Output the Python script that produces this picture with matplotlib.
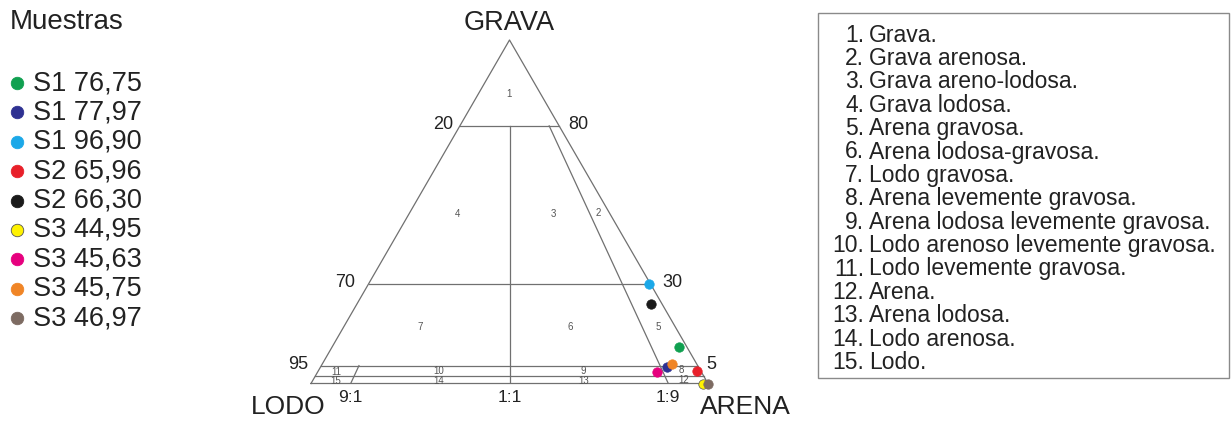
import numpy as np
import matplotlib.pyplot as plt
from matplotlib.patches import Rectangle

plt.rcParams['font.family'] = ['Liberation Sans', 'DejaVu Sans']

# muestras: % de grava y proporcion arena/(arena+lodo)
sample_names = ["S1 76,75", "S1 77,97", "S1 96,90", "S2 65,96", "S2 66,30",
                "S3 44,95", "S3 45,63", "S3 45,75", "S3 46,97"]
sample_colors = ["#10a050", "#2e3192", "#1ba8e8", "#e8202a", "#1a1a1a",
                 "#fff200", "#e6007e", "#f08526", "#7d6b62"]
gravel_pct = [10.7, 4.5, 30.0, 2.4, 23.8, 0.0, 1.9, 5.5, 0.0]
sand_ratio = [0.977, 0.917, 0.994, 0.989, 0.962, 0.987, 0.884, 0.935, 0.999]

# escala vertical del triangulo (grava %) -> altura relativa
gravel_levels = [0, 0.01, 5, 30, 80, 100]
level_heights = [0, 0.022, 0.052, 0.29, 0.75, 1.0]

classes = ["Grava.", "Grava arenosa.", "Grava areno-lodosa.", "Grava lodosa.",
           "Arena gravosa.", "Arena lodosa-gravosa.", "Lodo gravosa.",
           "Arena levemente gravosa.", "Arena lodosa levemente gravosa.",
           "Lodo arenoso levemente gravosa.", "Lodo levemente gravosa.",
           "Arena.", "Arena lodosa.", "Lodo arenosa.", "Lodo."]

# posicion de los numeros de cada campo (x, altura)
zone_pos = [(0.499, 0.843), (0.723, 0.496), (0.610, 0.493), (0.368, 0.493),
            (0.874, 0.164), (0.652, 0.164), (0.275, 0.164), (0.932, 0.039),
            (0.685, 0.036), (0.322, 0.036), (0.065, 0.033), (0.940, 0.010),
            (0.688, 0.007), (0.322, 0.007), (0.063, 0.007)]

LINE = "#707070"
TXT = "#222222"


def height(g):
    return np.interp(g, gravel_levels, level_heights)


def to_xy(g, r):
    t = height(np.asarray(g, dtype=float))
    r = np.asarray(r, dtype=float)
    return (1 - t) * r + 0.5 * t, t


W, H = 1231, 421
fig = plt.figure(figsize=(W / 100, H / 100), dpi=100)

# capa en pixeles para leyenda y recuadro
lay = fig.add_axes([0, 0, 1, 1])
lay.set_xlim(0, W)
lay.set_ylim(H, 0)
lay.axis("off")

lay.text(10, 22, "Muestras", fontsize=20, color=TXT, va="center", ha="left")
for i, (name, col) in enumerate(zip(sample_names, sample_colors)):
    y = 83 + 29.4 * i
    lay.plot(17, y, "o", ms=9, color=col, mec="#555555" if col == "#fff200" else col, mew=0.6)
    lay.text(33, y, name, fontsize=19.5, color=TXT, va="center", ha="left")

lay.add_patch(Rectangle((818, 13), 411, 365, fill=False, ec="#8a8a8a", lw=1.0))
for i, name in enumerate(classes):
    y = 35 + 23.4 * i
    lay.text(864, y, f"{i + 1}.", fontsize=16.5, color=TXT, va="center", ha="right")
    lay.text(869, y, name, fontsize=16.5, color=TXT, va="center", ha="left")

# triangulo
ax = fig.add_axes([311 / W, (H - 383.5) / H, 397 / W, 343.5 / H])
ax.set_xlim(0, 1)
ax.set_ylim(0, 1)
ax.axis("off")

ax.plot([0, 0.5, 1, 0], [0, 1, 0, 0], color=LINE, lw=0.9, clip_on=False)
for g in [80, 30, 5, 0.01]:
    t = height(g)
    ax.plot([0.5 * t, 1 - 0.5 * t], [t, t], color=LINE, lw=0.9)
for r, gtop in [(0.5, 80), (0.1, 5), (0.9, 80)]:
    xs, ys = to_xy([0, gtop], [r, r])
    ax.plot(xs, ys, color=LINE, lw=0.9)

for i, (x, y) in enumerate(zone_pos):
    ax.text(x, y, str(i + 1), fontsize=7, color="#555555", ha="center", va="center")

# valores de los ejes
for g, left, right in [(80, "20", "80"), (30, "70", "30"), (5, "95", "5")]:
    t = height(g)
    ax.annotate(left, (0.5 * t, t), xytext=(-7 if g == 80 else -13, 1),
                textcoords="offset pixels", fontsize=13, color=TXT, ha="right", va="center")
    ax.annotate(right, (1 - 0.5 * t, t), xytext=(9 if g != 30 else 12, 1),
                textcoords="offset pixels", fontsize=13, color=TXT, ha="left", va="center")
for r, lab in [(0.1, "9:1"), (0.5, "1:1"), (0.9, "1:9")]:
    ax.annotate(lab, (r, 0), xytext=(0, -14), textcoords="offset pixels",
                fontsize=12.5, color=TXT, ha="center", va="center")

ax.annotate("GRAVA", (0.5, 1), xytext=(0, 17), textcoords="offset pixels",
            fontsize=19.5, color=TXT, ha="center", va="center")
ax.annotate("LODO", (0, 0), xytext=(-23, -23), textcoords="offset pixels",
            fontsize=19, color=TXT, ha="center", va="center")
ax.annotate("ARENA", (1, 0), xytext=(37, -23), textcoords="offset pixels",
            fontsize=19, color=TXT, ha="center", va="center")

sx, sy = to_xy(gravel_pct, sand_ratio)
for x, y, col in zip(sx, sy, sample_colors):
    ax.plot(x, y, "o", ms=6.8, color=col, mec="#555555" if col == "#fff200" else col,
            mew=0.5, clip_on=False, zorder=5)

fig.savefig("out.png", dpi=100, facecolor="white")
